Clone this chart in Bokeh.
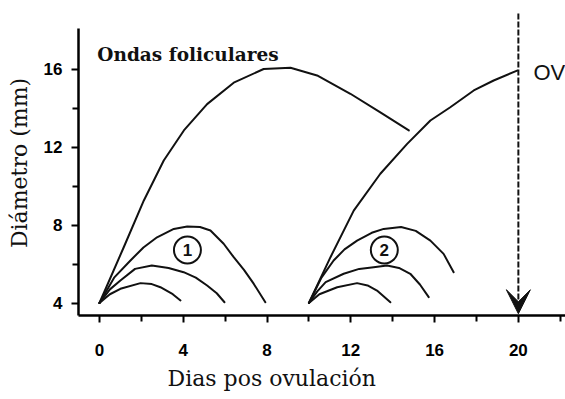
from bokeh.plotting import figure
from bokeh.models import Label, FixedTicker, Arrow, VeeHead, Range1d, Title
from bokeh.core.properties import value
from bokeh.embed import file_html
from bokeh.resources import INLINE

# ---- data ----
x_ticks = [0, 4, 8, 12, 16, 20]
x_minor = [2, 6, 10, 14, 18, 22]
y_ticks = [4, 8, 12, 16]
y_minor = [6, 10, 14]

# wave 1
dom1_x = [0, 1.16, 2.12, 3.07, 4.03, 5.14, 6.41, 7.84, 9.12, 10.39, 11.98, 13.41, 14.77]
dom1_y = [4.0, 6.86, 9.26, 11.31, 12.85, 14.2, 15.3, 16.0, 16.06, 15.67, 14.73, 13.78, 12.85]
sub1a_x = [0, 0.7, 1.48, 2.1, 2.75, 3.55, 4.19, 4.8, 5.30, 5.93, 6.41, 6.9, 7.37, 7.92]
sub1a_y = [4.0, 5.3, 6.18, 6.85, 7.37, 7.8, 7.92, 7.9, 7.72, 7.04, 6.35, 5.7, 4.98, 4.04]
sub1b_x = [0, 0.5, 1.0, 1.7, 2.5, 3.3, 4.02, 4.6, 5.14, 5.6, 5.97]
sub1b_y = [4.0, 4.7, 5.15, 5.75, 5.92, 5.8, 5.58, 5.3, 4.9, 4.5, 4.04]
sub1c_x = [0, 0.5, 1.0, 1.96, 2.5, 2.91, 3.5, 3.87]
sub1c_y = [4.0, 4.45, 4.73, 5.02, 4.97, 4.81, 4.45, 4.13]

# wave 2
dom2_x = [10, 11.03, 12.14, 13.41, 14.69, 15.8, 16.75, 17.87, 18.82, 19.94]
dom2_y = [4.0, 6.35, 8.74, 10.63, 12.16, 13.36, 14.04, 14.9, 15.41, 15.92]
sub2a_x = [10, 10.6, 11.18, 11.7, 12.3, 13.0, 13.57, 14.4, 15.1, 15.8, 16.43, 16.91]
sub2a_y = [4.0, 5.3, 6.18, 6.75, 7.2, 7.6, 7.8, 7.9, 7.7, 7.2, 6.52, 5.58]
sub2b_x = [10, 10.4, 10.8, 11.66, 12.4, 13.09, 13.73, 14.3, 14.84, 15.3, 15.72]
sub2b_y = [4.0, 4.6, 5.07, 5.5, 5.75, 5.84, 5.92, 5.8, 5.5, 4.95, 4.3]
sub2c_x = [10, 10.5, 11.35, 12.3, 12.8, 13.25, 13.89]
sub2c_y = [4.0, 4.45, 4.81, 5.02, 4.9, 4.64, 4.04]

wave_labels = ["1", "2"]
wave_label_x = [4.2, 13.6]
wave_label_y = [6.72, 6.72]

ovulation_day = 20

title_text = "Ondas foliculares"
x_label_text = "Dias pos ovulación"
y_label_text = "Diámetro (mm)"
ov_text = "OV"

# ---- figure ----
p = figure(
    frame_width=487, frame_height=305,
    x_range=Range1d(-1.0, 22.25), y_range=Range1d(3.36, 19.0),
    min_border_left=78, min_border_right=0, min_border_top=10, min_border_bottom=0,
    output_backend="svg", toolbar_location=None,
)
p.outline_line_color = None
p.xgrid.visible = False
p.ygrid.visible = False
p.background_fill_color = "white"
p.border_fill_color = "white"

for ax in (p.xaxis[0], p.yaxis[0]):
    ax.axis_line_width = 2.5
    ax.axis_line_color = "black"
    ax.major_tick_line_width = 2
    ax.minor_tick_line_width = 2
    ax.major_tick_in = 0
    ax.minor_tick_in = 0
    ax.major_tick_out = 7
    ax.minor_tick_out = 6
    ax.major_label_text_font = "Liberation Sans"
    ax.major_label_text_font_style = "bold"
    ax.major_label_text_font_size = "17px"
    ax.major_label_text_color = "black"

p.xaxis.ticker = FixedTicker(ticks=x_ticks, minor_ticks=x_minor)
p.yaxis.ticker = FixedTicker(ticks=y_ticks, minor_ticks=y_minor)
p.xaxis.major_label_standoff = 21
p.yaxis.major_label_standoff = 9
p.yaxis.bounds = (3.36, 18.06)

p.yaxis.axis_label = y_label_text
p.yaxis.axis_label_text_font = "DejaVu Serif"
p.yaxis.axis_label_text_font_size = "22px"
p.yaxis.axis_label_text_font_style = "normal"
p.yaxis.axis_label_text_color = "#111111"
p.yaxis.axis_label_standoff = 9

xt = Title(text=x_label_text, align="left", offset=89, standoff=11,
           text_font="DejaVu Serif", text_font_size="22px",
           text_font_style="normal", text_color="#111111")
p.add_layout(xt, "below")

curves = [
    (dom1_x, dom1_y), (sub1a_x, sub1a_y), (sub1b_x, sub1b_y), (sub1c_x, sub1c_y),
    (dom2_x, dom2_y), (sub2a_x, sub2a_y), (sub2b_x, sub2b_y), (sub2c_x, sub2c_y),
]
for cx, cy in curves:
    p.line(cx, cy, line_color="#111111", line_width=2, line_join="round", line_cap="round")

# circled wave numbers
p.scatter(wave_label_x, wave_label_y, marker="circle", size=27,
          fill_color="white", line_color="#111111", line_width=2)
p.text(wave_label_x, wave_label_y, text=wave_labels, text_align="center",
       text_baseline="middle", text_font=value("Liberation Sans"),
       text_font_size="17px", text_font_style="bold", text_color="#111111")

# ovulation arrow
p.add_layout(Arrow(
    end=VeeHead(size=24, fill_color="#111111", line_color="#111111", line_width=1),
    x_start=ovulation_day, y_start=18.85, x_end=ovulation_day, y_end=3.45,
    line_dash="6 2", line_width=2, line_color="#111111"))

# texts inside the frame
p.add_layout(Label(x=-0.1, y=16.74, text=title_text, text_font="DejaVu Serif",
                   text_font_style="bold", text_font_size="18.5px",
                   text_baseline="alphabetic", text_align="left", text_color="#111111"))
p.add_layout(Label(x=20.72, y=15.84, text=ov_text, text_font="Liberation Sans",
                   text_font_size="22px", text_baseline="alphabetic",
                   text_align="left", text_color="#111111"))

open("out.html", "w").write(file_html(p, INLINE))
